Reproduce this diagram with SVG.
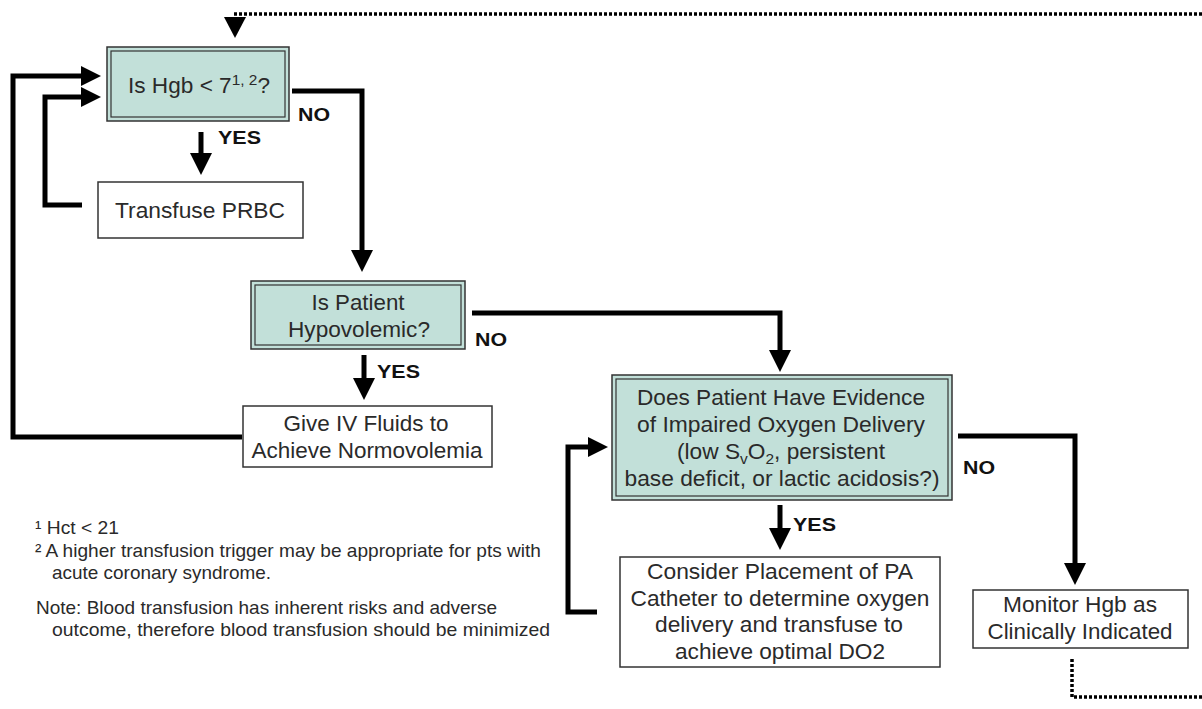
<svg xmlns="http://www.w3.org/2000/svg" width="1202" height="709" viewBox="0 0 1202 709">
<defs>
<style>
.box{fill:#fff;stroke:#333;stroke-width:1.5}
.dec{fill:#c2e0d9;stroke:#333;stroke-width:1.5}
.inner{fill:none;stroke:#333;stroke-width:1.2}
.t{font-family:"Liberation Sans",Arial,sans-serif;font-size:22px;fill:#2a2a2a;text-anchor:middle}
.lbl{font-family:"Liberation Sans",Arial,sans-serif;font-size:18px;font-weight:bold;fill:#111}
.fn{font-family:"Liberation Sans",Arial,sans-serif;font-size:18.5px;fill:#2a2a2a}
.c{fill:none;stroke:#000;stroke-width:5;stroke-linejoin:miter;stroke-linecap:butt}
.d{fill:none;stroke:#000;stroke-width:3.5;stroke-dasharray:3 2}
</style>
<marker id="ah" viewBox="0 0 22 22" refX="0" refY="11" markerWidth="22" markerHeight="22" markerUnits="userSpaceOnUse" orient="auto">
<path d="M0,0 L22,11 L0,22 Z" fill="#000"/>
</marker>
<marker id="ahs" viewBox="0 0 20 20" refX="0" refY="10" markerWidth="20" markerHeight="20" markerUnits="userSpaceOnUse" orient="auto">
<path d="M0,0 L20,10 L0,20 Z" fill="#000"/>
</marker>
</defs>
<rect width="1202" height="709" fill="#fff"/>

<g id="connectors">
<path class="d" d="M1202,14 H233"/>
<polygon points="224,17 246,17 235,38" fill="#000"/>
<path class="d" d="M1072,659 V697 H1202"/>
<path class="c" d="M292,91 H362 V250" marker-end="url(#ah)"/>
<path class="c" d="M201,132 V153" marker-end="url(#ah)"/>
<path class="c" d="M82,205 H45 V97 H81" marker-end="url(#ahs)"/>
<path class="c" d="M242,437 H13 V76 H81" marker-end="url(#ahs)"/>
<path class="c" d="M472,313 H780 V350" marker-end="url(#ah)"/>
<path class="c" d="M364,355 V378" marker-end="url(#ah)"/>
<path class="c" d="M780,505 V528" marker-end="url(#ah)"/>
<path class="c" d="M958,436 H1075 V563" marker-end="url(#ah)"/>
<path class="c" d="M597,612 H568 V447 H588" marker-end="url(#ahs)"/>
<text class="lbl" x="298" y="121" textLength="32" lengthAdjust="spacingAndGlyphs">NO</text>
<text class="lbl" x="218" y="144" textLength="43" lengthAdjust="spacingAndGlyphs">YES</text>
<text class="lbl" x="475" y="346" textLength="32" lengthAdjust="spacingAndGlyphs">NO</text>
<text class="lbl" x="377" y="378" textLength="43" lengthAdjust="spacingAndGlyphs">YES</text>
<text class="lbl" x="793" y="531" textLength="43" lengthAdjust="spacingAndGlyphs">YES</text>
<text class="lbl" x="963" y="474" textLength="32" lengthAdjust="spacingAndGlyphs">NO</text>
</g>

<g id="hgb">
<rect class="dec" x="107" y="47" width="182" height="74"/>
<rect class="inner" x="111" y="51" width="174" height="66"/>
<text class="t" x="199" y="93" textLength="142" lengthAdjust="spacingAndGlyphs">Is Hgb &lt; 7<tspan font-size="15" dy="-8">1, 2</tspan><tspan dy="8">?</tspan></text>
</g>

<g id="transfuse">
<rect class="box" x="98" y="182" width="205" height="56"/>
<text class="t" x="200" y="218" textLength="170" lengthAdjust="spacingAndGlyphs">Transfuse PRBC</text>
</g>

<g id="hypovolemic">
<rect class="dec" x="251" y="281" width="214" height="68"/>
<rect class="inner" x="255" y="285" width="206" height="60"/>
<text class="t" x="358" y="310" textLength="93" lengthAdjust="spacingAndGlyphs">Is Patient</text>
<text class="t" x="359" y="337" textLength="142" lengthAdjust="spacingAndGlyphs">Hypovolemic?</text>
</g>

<g id="fluids">
<rect class="box" x="243" y="406" width="249" height="61"/>
<text class="t" x="366" y="431" textLength="165" lengthAdjust="spacingAndGlyphs">Give IV Fluids to</text>
<text class="t" x="367" y="458" textLength="231" lengthAdjust="spacingAndGlyphs">Achieve Normovolemia</text>
</g>

<g id="oxygen">
<rect class="dec" x="612" y="375" width="340" height="125"/>
<rect class="inner" x="616" y="379" width="332" height="117"/>
<text class="t" x="781" y="405" textLength="288" lengthAdjust="spacingAndGlyphs">Does Patient Have Evidence</text>
<text class="t" x="781" y="432" textLength="288" lengthAdjust="spacingAndGlyphs">of Impaired Oxygen Delivery</text>
<text class="t" x="781" y="459" textLength="208" lengthAdjust="spacingAndGlyphs">(low S<tspan font-size="15" dy="5">v</tspan><tspan dy="-5">O</tspan><tspan font-size="15" dy="5">2</tspan><tspan dy="-5">, persistent</tspan></text>
<text class="t" x="782" y="486" textLength="315" lengthAdjust="spacingAndGlyphs">base deficit, or lactic acidosis?)</text>
</g>

<g id="pa">
<rect class="box" x="620" y="557" width="320" height="110"/>
<text class="t" x="780" y="579" textLength="266" lengthAdjust="spacingAndGlyphs">Consider Placement of PA</text>
<text class="t" x="780" y="605.5" textLength="299" lengthAdjust="spacingAndGlyphs">Catheter to determine oxygen</text>
<text class="t" x="779" y="632" textLength="248" lengthAdjust="spacingAndGlyphs">delivery and transfuse to</text>
<text class="t" x="780" y="658.5" textLength="210" lengthAdjust="spacingAndGlyphs">achieve optimal DO2</text>
</g>

<g id="monitor">
<rect class="box" x="973" y="590" width="215" height="58"/>
<text class="t" x="1080" y="612" textLength="154" lengthAdjust="spacingAndGlyphs">Monitor Hgb as</text>
<text class="t" x="1080" y="639" textLength="185" lengthAdjust="spacingAndGlyphs">Clinically Indicated</text>
</g>

<g id="footnotes">
<text class="fn" x="35" y="534" textLength="84" lengthAdjust="spacingAndGlyphs">¹ Hct &lt; 21</text>
<text class="fn" x="35" y="557" textLength="506" lengthAdjust="spacingAndGlyphs">² A higher transfusion trigger may be appropriate for pts with</text>
<text class="fn" x="52" y="579" textLength="219" lengthAdjust="spacingAndGlyphs">acute coronary syndrome.</text>
<text class="fn" x="36" y="614" textLength="461" lengthAdjust="spacingAndGlyphs">Note: Blood transfusion has inherent risks and adverse</text>
<text class="fn" x="52" y="636" textLength="498" lengthAdjust="spacingAndGlyphs">outcome, therefore blood transfusion should be minimized</text>
</g>
</svg>
